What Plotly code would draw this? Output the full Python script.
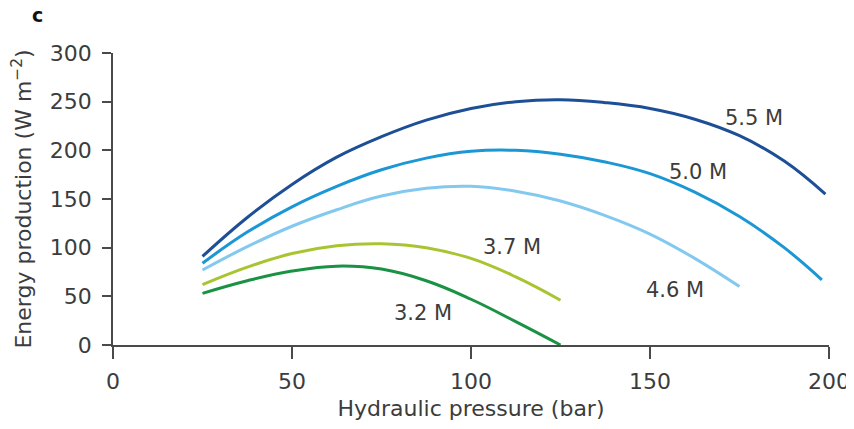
import plotly.graph_objects as go

# Data
pressure_55 = [25, 37.5, 50, 62.5, 75, 87.5, 100, 112.5, 125, 137.5, 150, 162.5, 175, 187.5, 199]
energy_55 = [91, 131, 165, 193, 214, 231, 243, 250, 252, 249, 243, 232, 215, 189, 155]

pressure_50 = [25, 37.5, 50, 62.5, 75, 87.5, 100, 112.5, 125, 137.5, 150, 162.5, 175, 187.5, 198]
energy_50 = [84, 116, 142, 163, 180, 192, 199, 200, 196, 188, 176, 157, 132, 100, 67]

pressure_46 = [25, 37.5, 50, 62.5, 75, 87.5, 100, 112.5, 125, 137.5, 150, 162.5, 175]
energy_46 = [77, 101, 122, 139, 153, 161, 163, 158, 148, 133, 114, 89, 60]

pressure_37 = [25, 37.5, 50, 62.5, 75, 87.5, 100, 112.5, 125]
energy_37 = [62, 80, 94, 102, 104, 100, 89, 70, 46]

pressure_32 = [25, 37.5, 50, 62.5, 75, 87.5, 100, 112.5, 125]
energy_32 = [53, 66, 76, 81, 78, 66, 47, 24, 0]

series_names = ["5.5 M", "5.0 M", "4.6 M", "3.7 M", "3.2 M"]
series_colors = ["#1d4f97", "#1b97d5", "#83c9ef", "#a9c431", "#1a9243"]
series_x = [pressure_55, pressure_50, pressure_46, pressure_37, pressure_32]
series_y = [energy_55, energy_50, energy_46, energy_37, energy_32]

# label anchor positions (data coords)
label_x = [179, 163.5, 157, 111.5, 86.5]
label_y = [233, 178, 56, 101, 33]

x_ticks = [0, 50, 100, 150, 200]
y_ticks = [0, 50, 100, 150, 200, 250, 300]

FONT = "DejaVu Sans"
TXT = "#3c3c3c"
FS = 22

fig = go.Figure()
for name, col, xs, ys in zip(series_names, series_colors, series_x, series_y):
    fig.add_trace(go.Scatter(
        x=xs, y=ys, mode="lines", name=name,
        line=dict(color=col, width=3, shape="spline", smoothing=1.2),
        showlegend=False, hoverinfo="skip",
    ))

for name, lx, ly in zip(series_names, label_x, label_y):
    fig.add_annotation(x=lx, y=ly, text=name, showarrow=False,
                       font=dict(family=FONT, size=FS - 1, color=TXT),
                       xanchor="center", yanchor="middle")

fig.add_annotation(xref="paper", yref="paper", x=-0.116, y=1.13, text="<b>c</b>",
                   showarrow=False, xanchor="left", yanchor="middle",
                   font=dict(family="DejaVu Sans", size=19, color="#111111"))

# page body has an 8px margin; plot area placed to match the reference pixels
fig.update_layout(
    width=854, height=413,
    margin=dict(l=105, r=33, t=45, b=76),
    paper_bgcolor="white", plot_bgcolor="white",
    font=dict(family=FONT, size=FS, color=TXT),
    xaxis=dict(
        range=[0, 200], tickvals=x_ticks, ticktext=[str(v) for v in x_ticks],
        showline=True, linecolor="#4a4a4a", linewidth=1.5,
        ticks="outside", ticklen=12, tickwidth=1.5, tickcolor="#4a4a4a",
        showgrid=False, zeroline=False, automargin=False,
        ticklabelstandoff=4,
        tickfont=dict(family=FONT, size=FS, color=TXT),
        title=dict(text="Hydraulic pressure (bar)", standoff=8,
                   font=dict(family=FONT, size=FS, color=TXT)),
    ),
    yaxis=dict(
        range=[0, 300], tickvals=y_ticks, ticktext=[str(v) for v in y_ticks],
        showline=True, linecolor="#4a4a4a", linewidth=1.5,
        ticks="outside", ticklen=9, tickwidth=1.5, tickcolor="#4a4a4a",
        showgrid=False, zeroline=False, automargin=False,
        ticklabelstandoff=6,
        tickfont=dict(family=FONT, size=FS, color=TXT),
        title=dict(text="Energy production (W m<sup>−2</sup>)", standoff=12,
                   font=dict(family=FONT, size=FS, color=TXT)),
    ),
)

fig.write_html("out.html")
